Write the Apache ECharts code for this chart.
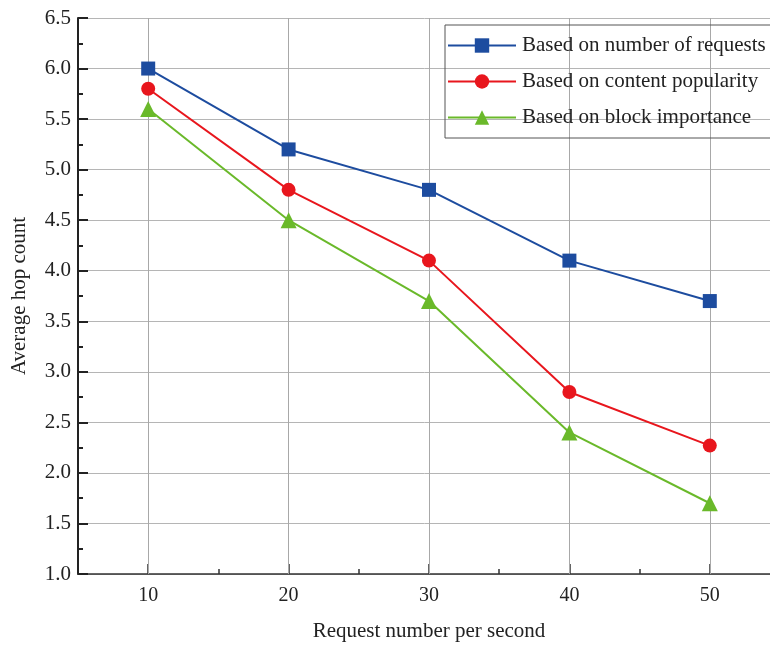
<!DOCTYPE html>
<html>
<head>
<meta charset="utf-8">
<script src="https://cdn.jsdelivr.net/npm/echarts@6/dist/echarts.min.js"></script>
<style>html,body{margin:0;padding:0;background:#fff}#c{width:770px;height:645px}</style>
</head>
<body>
<div id="c"></div>
<script>
const xValues = [10, 20, 30, 40, 50];
const xMinorTicks = [15, 25, 35, 45];
const seriesNames = ['Based on number of requests', 'Based on content popularity', 'Based on block importance'];
const requestsBased = [6.0, 5.2, 4.8, 4.1, 3.7];
const popularityBased = [5.8, 4.8, 4.1, 2.8, 2.27];
const importanceBased = [5.6, 4.5, 3.7, 2.4, 1.7];
const colors = ['#1d4c9f', '#e8161d', '#6ab92a'];
const symbols = ['rect', 'circle', 'triangle'];
const symbolSizes = [14, 14, 16];
const FONT = '"Liberation Serif", "DejaVu Serif", serif';

const allData = [requestsBased, popularityBased, importanceBased];
const chart = echarts.init(document.getElementById('c'));
const series = seriesNames.map((n, i) => ({
  name: n, type: 'line',
  data: xValues.map((x, j) => [x, allData[i][j]]),
  symbol: symbols[i], symbolSize: symbolSizes[i],
  lineStyle: { color: colors[i], width: 2 },
  itemStyle: { color: colors[i] },
  z: 5 - i
}));
// vertical grid lines at the category positions
series[0].markLine = {
  silent: true, symbol: 'none', label: { show: false },
  lineStyle: { color: '#a8a8a8', width: 1, type: 'solid' },
  z: 1,
  data: xValues.map(x => ({ xAxis: x }))
};
chart.setOption({
  backgroundColor: '#ffffff',
  animation: false,
  grid: { left: 78, right: -10, top: 18, bottom: 71, outerBoundsMode: 'none', containLabel: false },
  legend: {
    orient: 'vertical',
    left: 445, top: 25,
    padding: [10, 60, 10, 2],
    itemGap: 15,
    itemWidth: 68, itemHeight: 18,
    borderColor: '#555', borderWidth: 1,
    textStyle: { fontFamily: FONT, fontSize: 21, color: '#222', padding: [0, 0, 0, 1] },
    data: seriesNames
  },
  xAxis: [{
    type: 'value', min: 5, max: 55, interval: 5,
    name: 'Request number per second', nameLocation: 'middle', nameGap: 47,
    nameTextStyle: { fontFamily: FONT, fontSize: 21, color: '#222' },
    axisLine: { lineStyle: { color: '#333', width: 1.5 } },
    axisTick: { inside: true, length: 10, lineStyle: { color: '#333', width: 1.5 },
      customValues: xValues },
    axisLabel: { fontFamily: FONT, fontSize: 20, color: '#222', margin: 12,
      customValues: xValues },
    splitLine: { show: false }
  }, {
    type: 'value', min: 5, max: 55, interval: 5, position: 'bottom', offset: 0,
    axisLine: { show: false },
    axisTick: { inside: true, length: 5, lineStyle: { color: '#333', width: 1.5 },
      customValues: xMinorTicks },
    axisLabel: { show: false },
    splitLine: { show: false }
  }],
  yAxis: {
    type: 'value', min: 1.0, max: 6.5, interval: 0.5,
    name: 'Average hop count', nameLocation: 'middle', nameGap: 48,
    nameTextStyle: { fontFamily: FONT, fontSize: 21, color: '#222' },
    axisLine: { show: true, lineStyle: { color: '#222', width: 2 } },
    axisTick: { inside: true, length: 10, lineStyle: { color: '#222', width: 2 } },
    minorTick: { show: true, splitNumber: 2, length: 5, lineStyle: { color: '#222', width: 2 } },
    axisLabel: { fontFamily: FONT, fontSize: 21, color: '#222', margin: 7,
      formatter: v => v.toFixed(1) },
    splitLine: { show: true, lineStyle: { color: '#b5b5b5', width: 1 } }
  },
  series: series
});
</script>
</body>
</html>
